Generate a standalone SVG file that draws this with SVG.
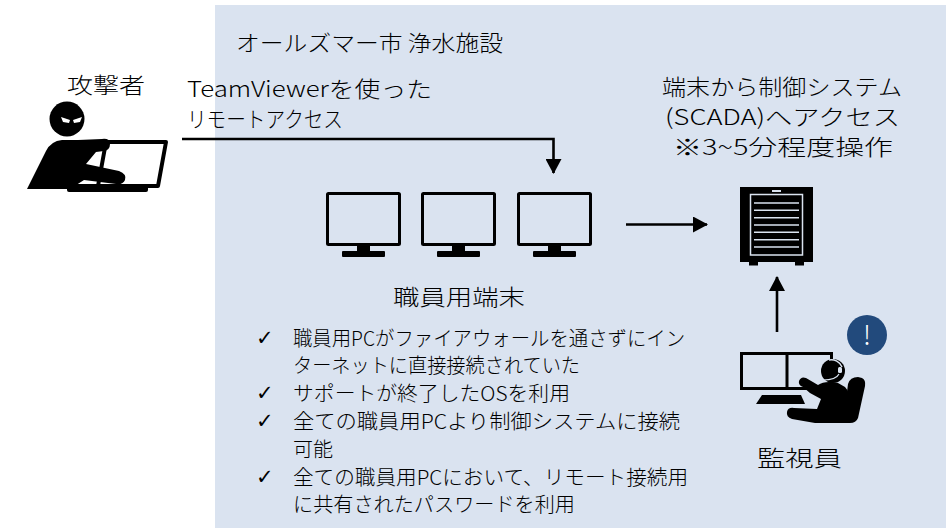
<svg xmlns="http://www.w3.org/2000/svg" width="946" height="528" viewBox="0 0 946 528">
  <defs>
    <style>
      .t { font-family: "Noto Sans CJK JP", "Noto Sans", sans-serif; fill: #000; font-weight: 300; }
      .h { font-size: 22px; }
      .s { font-size: 20px; }
      .ck { font-family: "DejaVu Sans", sans-serif; font-size: 21px; fill: #000; }
      .ln { stroke: #000; stroke-width: 2.6; fill: none; }
      .scr { fill: none; stroke: #000; stroke-width: 3; }
    </style>
    <marker id="arrow" markerUnits="userSpaceOnUse" markerWidth="16" markerHeight="16" viewBox="0 0 16 16" refX="14" refY="8" orient="auto">
      <path d="M0,0 L15,8 L0,16 Z" fill="#000"/>
    </marker>
    <g id="monitor">
      <rect class="scr" x="1.5" y="1.5" width="72" height="51" rx="1"/>
      <rect x="31" y="53" width="13" height="7" fill="#000"/>
      <rect x="16" y="59" width="43" height="6" rx="1" fill="#000"/>
    </g>
  </defs>

  <!-- facility area -->
  <rect id="facility" x="215" y="5" width="731" height="523" fill="#dae3f0"/>
  <text class="t h" x="236" y="51" textLength="267" lengthAdjust="spacingAndGlyphs">オールズマー市 浄水施設</text>

  <!-- connectors -->
  <g id="connectors">
    <polyline class="ln" points="182,139 553.5,139 553.5,173" marker-end="url(#arrow)"/>
    <line class="ln" x1="626" y1="224.5" x2="707" y2="224.5" marker-end="url(#arrow)"/>
    <line class="ln" x1="777" y1="332" x2="777" y2="277" marker-end="url(#arrow)"/>
  </g>

  <!-- attacker -->
  <g id="attacker">
    <text class="t h" x="67" y="93" textLength="78" lengthAdjust="spacingAndGlyphs">攻撃者</text>
    <circle cx="67" cy="119" r="17.5" fill="#000"/>
    <path d="M61,117 L70,120 L69,123 L63,122 Z M82,117 L73,120 L74,123 L80,122 Z" fill="#fff"/>
    <path d="M106,142 L166,142 L158,186 L98,186 Z" fill="#fff" stroke="#000" stroke-width="4" stroke-linejoin="round"/>
    <rect x="67" y="184" width="81" height="8" rx="2" fill="#000"/>
    <path d="M27,189 L46,151 Q51,141 62,140 L78,140 L102,139 Q110,138 110,144 Q110,150 104,151 L96,152 L86,164 L119,171 Q127,174 125,180 Q123,185 116,184 L84,180 L70,189 Z" fill="#000"/>
    <text class="t h" x="187" y="97" textLength="245" lengthAdjust="spacingAndGlyphs">TeamViewerを使った</text>
    <text class="t h" x="187" y="127" textLength="156" lengthAdjust="spacingAndGlyphs">リモートアクセス</text>
  </g>

  <!-- staff terminals -->
  <g id="terminals">
    <use href="#monitor" x="326" y="192"/>
    <use href="#monitor" x="421" y="192"/>
    <use href="#monitor" x="517" y="192"/>
    <text class="t h" x="393" y="305" textLength="132" lengthAdjust="spacingAndGlyphs">職員用端末</text>
  </g>

  <!-- findings list -->
  <g id="findings">
    <text class="ck" x="256" y="345">✓</text>
    <text class="ck" x="256" y="400">✓</text>
    <text class="ck" x="256" y="428">✓</text>
    <text class="ck" x="256" y="484">✓</text>
    <text class="t s" x="293" y="346" textLength="392" lengthAdjust="spacingAndGlyphs">職員用PCがファイアウォールを通さずにイン</text>
    <text class="t s" x="293" y="373" textLength="287" lengthAdjust="spacingAndGlyphs">ターネットに直接接続されていた</text>
    <text class="t s" x="293" y="401" textLength="277" lengthAdjust="spacingAndGlyphs">サポートが終了したOSを利用</text>
    <text class="t s" x="293" y="429" textLength="387" lengthAdjust="spacingAndGlyphs">全ての職員用PCより制御システムに接続</text>
    <text class="t s" x="293" y="457" textLength="40" lengthAdjust="spacingAndGlyphs">可能</text>
    <text class="t s" x="293" y="485" textLength="395" lengthAdjust="spacingAndGlyphs">全ての職員用PCにおいて、リモート接続用</text>
    <text class="t s" x="293" y="512" textLength="282" lengthAdjust="spacingAndGlyphs">に共有されたパスワードを利用</text>
  </g>

  <!-- SCADA server -->
  <g id="scada">
    <text class="t h" x="662" y="95" textLength="240" lengthAdjust="spacingAndGlyphs">端末から制御システム</text>
    <text class="t h" x="665" y="125" textLength="235" lengthAdjust="spacingAndGlyphs">(SCADA)へアクセス</text>
    <text class="t h" x="673" y="155" textLength="220" lengthAdjust="spacingAndGlyphs">※3~5分程度操作</text>
    <rect x="740" y="187" width="73" height="75" fill="#000"/>
    <rect x="749" y="262" width="9" height="3.5" fill="#000"/>
    <rect x="795" y="262" width="9" height="3.5" fill="#000"/>
    <rect x="772" y="190" width="9" height="2" fill="#dae3f0"/>
    <rect x="750.5" y="194.5" width="52" height="60.5" fill="none" stroke="#dae3f0" stroke-width="1.5"/>
    <g stroke="#dae3f0" stroke-width="1.6">
      <line x1="754" y1="203" x2="799" y2="203"/>
      <line x1="754" y1="210.3" x2="799" y2="210.3"/>
      <line x1="754" y1="217.7" x2="799" y2="217.7"/>
      <line x1="754" y1="225" x2="799" y2="225"/>
      <line x1="754" y1="232.3" x2="799" y2="232.3"/>
      <line x1="754" y1="239.7" x2="799" y2="239.7"/>
      <line x1="754" y1="247" x2="799" y2="247"/>
    </g>
  </g>

  <!-- operator -->
  <g id="operator">
    <rect class="scr" x="741.5" y="353.5" width="90" height="35"/>
    <line x1="787" y1="353" x2="787" y2="389" stroke="#000" stroke-width="3"/>
    <path d="M762,395 L801,395 L805,404 L756,404 Z" fill="#000"/>
    <path d="M848,384 Q850,377 858,377 L862,378 Q866,380 865,386 L858,418 Q856,423 850,423 L843,423 Z" fill="#000"/>
    <path d="M818,385 Q825,380 838,383 L845,387 Q850,392 848,400 L845,423 L815,423 L792,419 Q786,417 787,412 Q788,407 794,408 L817,409 L821,399 L810,393 L803,387 Q798,385 799,381 Q801,376 806,378 Z" fill="#000"/>
    <circle cx="833" cy="371" r="12" fill="#000"/>
    <path d="M829,360 A11.5,11.5 0 0 1 842,367" fill="none" stroke="#dae3f0" stroke-width="1.5"/>
    <rect x="838" y="367" width="4" height="6" rx="1.5" fill="#dae3f0"/>
    <path d="M839,374 Q836,380 823,380" fill="none" stroke="#dae3f0" stroke-width="1.2"/>
    <circle cx="821.5" cy="380" r="2" fill="#dae3f0"/>
    <circle cx="867" cy="335" r="20" fill="#224a7c"/>
    <text x="867" y="345" text-anchor="middle" font-family="Noto Sans CJK JP, sans-serif" font-weight="300" font-size="27" fill="#fff">!</text>
    <text class="t h" x="757" y="466" textLength="85" lengthAdjust="spacingAndGlyphs">監視員</text>
  </g>
</svg>
